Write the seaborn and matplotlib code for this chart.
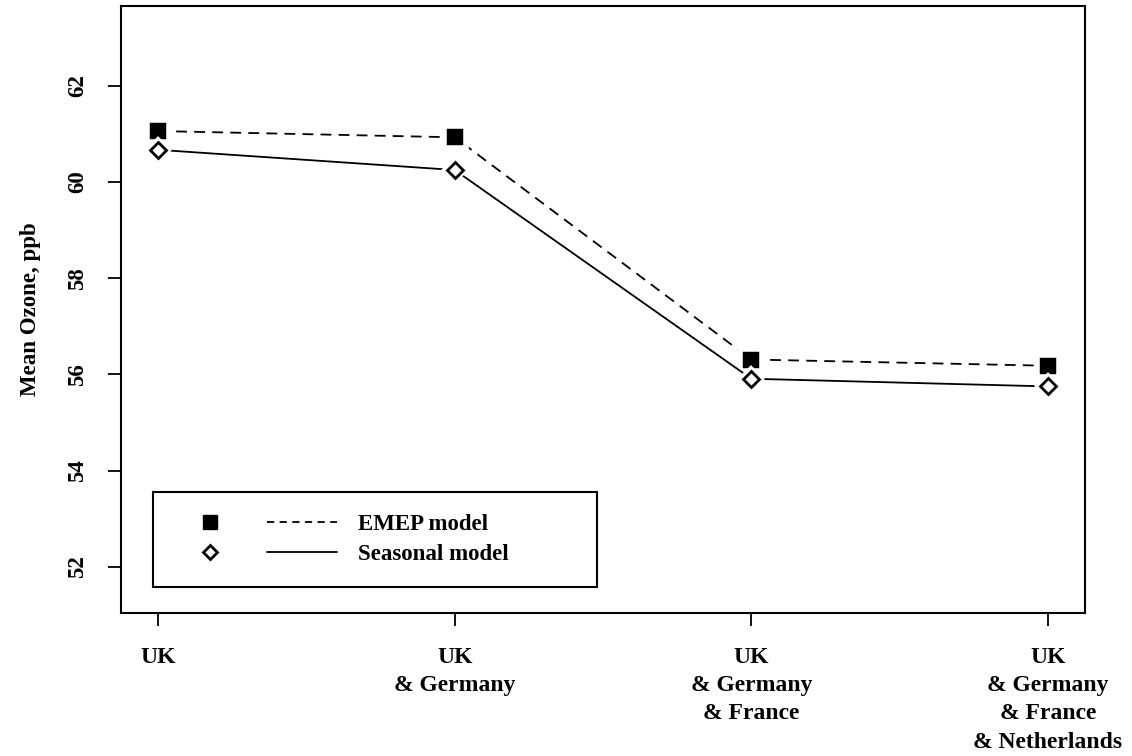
import numpy as np
import pandas as pd
import matplotlib
matplotlib.use("Agg")
import matplotlib.pyplot as plt
import seaborn as sns
from matplotlib.lines import Line2D
from matplotlib.legend_handler import HandlerTuple

categories = ["UK", "UK\n& Germany", "UK\n& Germany\n& France",
              "UK\n& Germany\n& France\n& Netherlands"]
emep = [61.06, 60.93, 56.31, 56.18]
seasonal = [60.67, 60.25, 55.91, 55.75]
yticks = [52, 54, 56, 58, 60, 62]
series_names = ["EMEP model", "Seasonal model"]

sns.set_theme(style="ticks")
plt.rcParams['font.family'] = ['Liberation Serif', 'DejaVu Serif']
plt.rcParams['font.weight'] = 'bold'
plt.rcParams['text.color'] = 'black'
plt.rcParams['axes.labelcolor'] = 'black'
plt.rcParams['xtick.color'] = 'black'
plt.rcParams['ytick.color'] = 'black'

fig = plt.figure(figsize=(11.32, 7.56), dpi=100)
ax = fig.add_axes([0.1069, 0.1892, 0.8516, 0.8035])

xpos = np.arange(len(categories))
# EMEP: dashed line, filled squares with a white halo (gap like R type="b")
sns.lineplot(x=xpos, y=emep, ax=ax, color="black", linestyle=(0, (6, 4)),
             linewidth=1.3, marker="s", markersize=15.5, markerfacecolor="black",
             markeredgecolor="white", markeredgewidth=4)
# Seasonal: solid line, open diamonds with a white halo
sns.lineplot(x=xpos, y=seasonal, ax=ax, color="black", linestyle="-",
             linewidth=1.3, marker="D", markersize=8.5, markerfacecolor="white",
             markeredgecolor="white", markeredgewidth=6)
sns.lineplot(x=xpos, y=seasonal, ax=ax, color="black", linestyle="none",
             marker="D", markersize=8.5, markerfacecolor="white",
             markeredgecolor="black", markeredgewidth=2)

ax.set_xlim(-0.125, 3.125)
ax.set_ylim(51.04, 63.67)
ax.set_xticks(xpos)
ax.set_xticklabels(categories, fontsize=17, fontweight="bold", linespacing=1.45,
                   va="top", color="black")
ax.set_yticks(yticks)
ax.set_yticklabels([str(v) for v in yticks], fontsize=16.5, fontweight="bold",
                   rotation=90, va="center", color="black")
ax.tick_params(axis="x", length=9.5, width=1.3, pad=15)
ax.tick_params(axis="y", length=9.5, width=1.3, pad=14)
ax.set_ylabel("Mean Ozone, ppb", fontsize=16.5, fontweight="bold", labelpad=19,
              color="black")
ax.set_xlabel("")
for s in ax.spines.values():
    s.set_visible(True)
    s.set_linewidth(1.5)
    s.set_color("black")

h1 = (Line2D([], [], marker="s", markersize=10.5, color="black", linestyle="none"),
      Line2D([], [], color="black", linestyle=(0, (4, 3)), linewidth=1.3))
h2 = (Line2D([], [], marker="D", markersize=7.5, markerfacecolor="white",
             markeredgecolor="black", markeredgewidth=2, linestyle="none"),
      Line2D([], [], color="black", linestyle="-", linewidth=1.3))
leg = ax.legend([h1, h2], series_names,
                handler_map={tuple: HandlerTuple(ndivide=None, pad=0.96)},
                handlelength=7.07, handletextpad=0.92, borderpad=0.95,
                labelspacing=0.4, loc="lower left", mode="expand",
                bbox_to_anchor=(0.0332, 0.0428, 0.4606, 0.156),
                borderaxespad=0, fancybox=False, framealpha=1,
                edgecolor="black", prop={"size": 16.5, "weight": "bold"})
leg.get_frame().set_linewidth(1.5)
for t in leg.get_texts():
    t.set_color("black")

fig.savefig("out.png", dpi=100, facecolor="white")
